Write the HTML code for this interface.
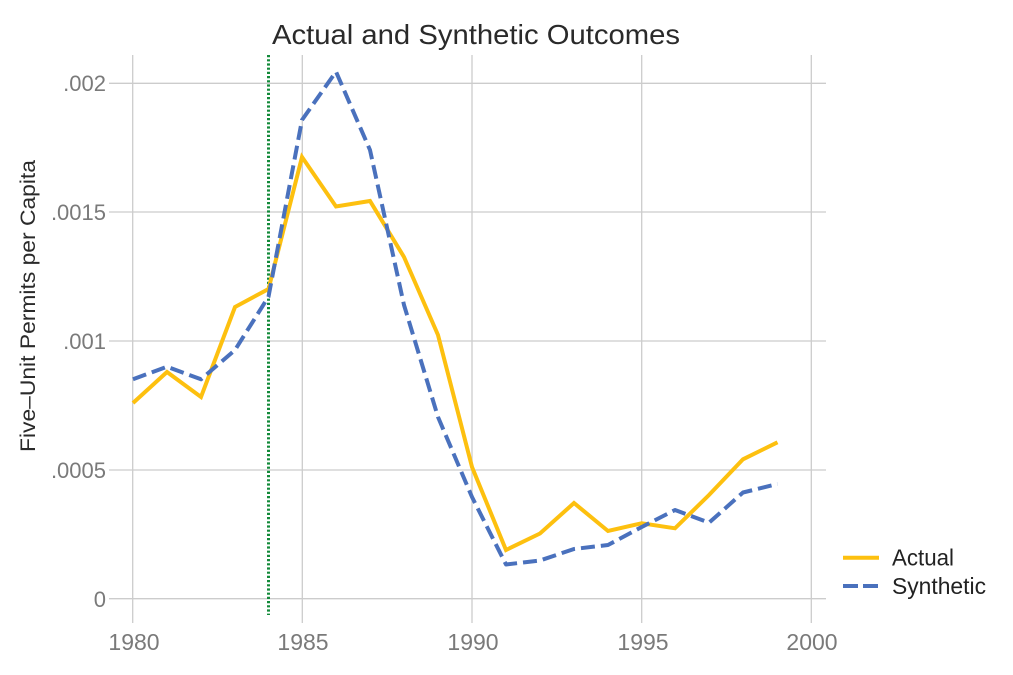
<!DOCTYPE html>
<html><head><meta charset="utf-8"><style>
html,body{margin:0;padding:0;background:#fff;}
svg{display:block;}
</style></head><body>
<svg width="1013" height="675" viewBox="0 0 1013 675" xmlns="http://www.w3.org/2000/svg">
<rect width="1013" height="675" fill="#fff"/>
<g stroke="#cccccc" stroke-width="1.3" fill="none">
<line x1="132.7" y1="55" x2="132.7" y2="623"/>
<line x1="302.3" y1="55" x2="302.3" y2="623"/>
<line x1="472" y1="55" x2="472" y2="623"/>
<line x1="641.7" y1="55" x2="641.7" y2="623"/>
<line x1="811.3" y1="55" x2="811.3" y2="623"/>
<line x1="109" y1="83.3" x2="826" y2="83.3"/>
<line x1="109" y1="212" x2="826" y2="212"/>
<line x1="109" y1="341" x2="826" y2="341"/>
<line x1="109" y1="470" x2="826" y2="470"/>
<line x1="109" y1="598.7" x2="826" y2="598.7"/>
</g>
<g font-family="Liberation Sans, sans-serif" font-size="22" fill="#7a7a7a" text-anchor="end">
<text x="106" y="91">.002</text>
<text x="106" y="220">.0015</text>
<text x="106" y="349">.001</text>
<text x="106" y="478">.0005</text>
<text x="106" y="607">0</text>
</g>
<g font-family="Liberation Sans, sans-serif" font-size="23" fill="#7a7a7a" text-anchor="middle">
<text x="134" y="650">1980</text>
<text x="303" y="650">1985</text>
<text x="473" y="650">1990</text>
<text x="643" y="650">1995</text>
<text x="812" y="650">2000</text>
</g>
<text x="476" y="44" font-family="Liberation Sans, sans-serif" font-size="28" fill="#2a2a2a" text-anchor="middle" textLength="408" lengthAdjust="spacingAndGlyphs">Actual and Synthetic Outcomes</text>
<text transform="translate(35,306) rotate(-90)" font-family="Liberation Sans, sans-serif" font-size="21" fill="#2a2a2a" text-anchor="middle" textLength="292" lengthAdjust="spacingAndGlyphs">Five–Unit Permits per Capita</text>
<line x1="268.5" y1="55" x2="268.5" y2="615" stroke="#138a3a" stroke-width="3" stroke-dasharray="2.2 2"/>
<polyline fill="none" stroke="#FDC00F" stroke-width="4" stroke-linejoin="miter" points="133,403 167,372 201,397 235,307 268.5,289 302,157 336,206.5 370,201 404,257 438,335 472,467 506,550 540,533.5 574,503 608,531 641.7,523.3 675,528.3 709,495 743,459.3 777.5,442.3"/>
<polyline fill="none" stroke="#4A71BD" stroke-width="4" stroke-dasharray="14 6" stroke-linejoin="round" points="133,379.3 167,366.7 201,379.3 235,350 268.5,296.7 302,120 336,71.7 370,150 404,305 438,417 472,497 506,564.5 540,560.5 574,549 608,545 641.7,527 675,510 709,522.7 743,492.5 777.5,484"/>
<line x1="843" y1="557.7" x2="879" y2="557.7" stroke="#FDC00F" stroke-width="4"/>
<line x1="843" y1="586" x2="879" y2="586" stroke="#4A71BD" stroke-width="4" stroke-dasharray="15 5"/>
<g font-family="Liberation Sans, sans-serif" font-size="23" fill="#222">
<text x="892" y="565.5" textLength="62" lengthAdjust="spacingAndGlyphs">Actual</text>
<text x="892" y="594" textLength="94" lengthAdjust="spacingAndGlyphs">Synthetic</text>
</g>
</svg>
</body></html>
